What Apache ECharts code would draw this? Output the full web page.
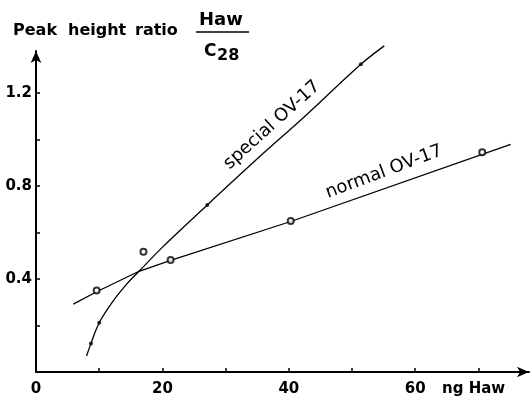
<!DOCTYPE html>
<html><head><meta charset="utf-8">
<script src="https://cdn.jsdelivr.net/npm/echarts@6/dist/echarts.min.js"></script>
<style>html,body{margin:0;padding:0;background:#fff}#c{width:532px;height:400px}</style>
</head><body><div id="c"></div>
<script>
// Data
const normalPoints = [[9.6,0.350],[17.0,0.517],[21.3,0.482],[40.3,0.649],[70.6,0.945]];
const normalLine = [[5.9,0.292],[9.6,0.345],[16.3,0.433],[21.3,0.480],[40.3,0.647],[75.1,0.979]];
const specialPoints = [[8.7,0.123],[10.0,0.212],[27.1,0.718],[51.4,1.323]];
const specialCurve = [[8.0,0.069],[8.7,0.123],[10.0,0.212],[12.2,0.305],[14.35,0.378],[16.3,0.433],[20.1,0.539],[27.1,0.718],[35.4,0.926],[42.2,1.091],[51.4,1.323],[55.1,1.402]];
const xTickValues = [10,20,30,40,50,60,70];
const xLabelValues = [0,20,40,60];
const yTickValues = [0.2,0.4,0.6,0.8,1.0,1.2];
const yLabelValues = [0.4,0.8,1.2];
const titleWords = ['Peak','height','ratio'];

const font = 'DejaVu Sans';
const chart = echarts.init(document.getElementById('c'));
chart.setOption({
  animation: false,
  grid: {left: 36, right: 3, top: 51, bottom: 28},
  xAxis: {
    type: 'value', min: 0, max: 78,
    splitLine: {show: false},
    axisLine: {show: true, onZero: false, symbol: ['none','arrow'], symbolSize: [8,12], lineStyle: {color: '#000', width: 2}},
    axisTick: {show: true, inside: true, length: 4, lineStyle: {color: '#000', width: 1.5}, customValues: xTickValues},
    axisLabel: {show: true, customValues: xLabelValues, color: '#000', fontFamily: font, fontWeight: 'bold', fontSize: 15, margin: 10}
  },
  yAxis: {
    type: 'value', min: 0, max: 1.38,
    splitLine: {show: false},
    axisLine: {show: true, onZero: false, symbol: ['none','arrow'], symbolSize: [8,12], lineStyle: {color: '#000', width: 2}},
    axisTick: {show: true, inside: true, length: 4, lineStyle: {color: '#000', width: 1.5}, customValues: yTickValues},
    axisLabel: {show: true, customValues: yLabelValues, color: '#000', fontFamily: font, fontWeight: 'bold', fontSize: 15, margin: 4,
      formatter: v => v.toFixed(1)}
  },
  series: [
    {type: 'line', data: normalLine, showSymbol: false, lineStyle: {color: '#000', width: 1.3}, z: 2},
    {type: 'line', data: specialCurve, smooth: 0.35, showSymbol: false, clip: false, lineStyle: {color: '#000', width: 1.3}, z: 2},
    {type: 'scatter', data: normalPoints, symbol: 'emptyCircle', symbolSize: 6, itemStyle: {color: '#000', borderColor: '#000', borderWidth: 1.7}, z: 3},
    {type: 'scatter', data: specialPoints, symbol: 'circle', symbolSize: 4, itemStyle: {color: '#000'}, z: 3}
  ],
  graphic: [
    {type: 'text', left: 13, top: 23, style: {text: titleWords[0], font: 'bold 16px ' + font, fill: '#000'}},
    {type: 'text', left: 68, top: 23, style: {text: titleWords[1], font: 'bold 16px ' + font, fill: '#000'}},
    {type: 'text', left: 135, top: 23, style: {text: titleWords[2], font: 'bold 16px ' + font, fill: '#000'}},
    {type: 'text', left: 199, top: 11, style: {text: 'Haw', font: 'bold 18px ' + font, fill: '#000'}},
    {type: 'line', shape: {x1: 196, y1: 32, x2: 249, y2: 32}, style: {stroke: '#000', lineWidth: 1.6}},
    {type: 'text', left: 204, top: 43, style: {text: 'C', font: 'bold 17px ' + font, fill: '#000'}},
    {type: 'text', left: 217, top: 48, style: {text: '28', font: 'bold 16px ' + font, fill: '#000'}},
    {type: 'text', left: 442, top: 382, style: {text: 'ng Haw', font: 'bold 15px ' + font, fill: '#000'}},
    {type: 'text', x: 272, y: 125, rotation: 42 * Math.PI / 180,
      style: {text: 'special OV-17', font: '18px ' + font, fill: '#000', align: 'center', verticalAlign: 'middle'}},
    {type: 'text', x: 384, y: 172, rotation: 20.5 * Math.PI / 180,
      style: {text: 'normal OV-17', font: '18px ' + font, fill: '#000', align: 'center', verticalAlign: 'middle'}}
  ]
});
</script></body></html>
